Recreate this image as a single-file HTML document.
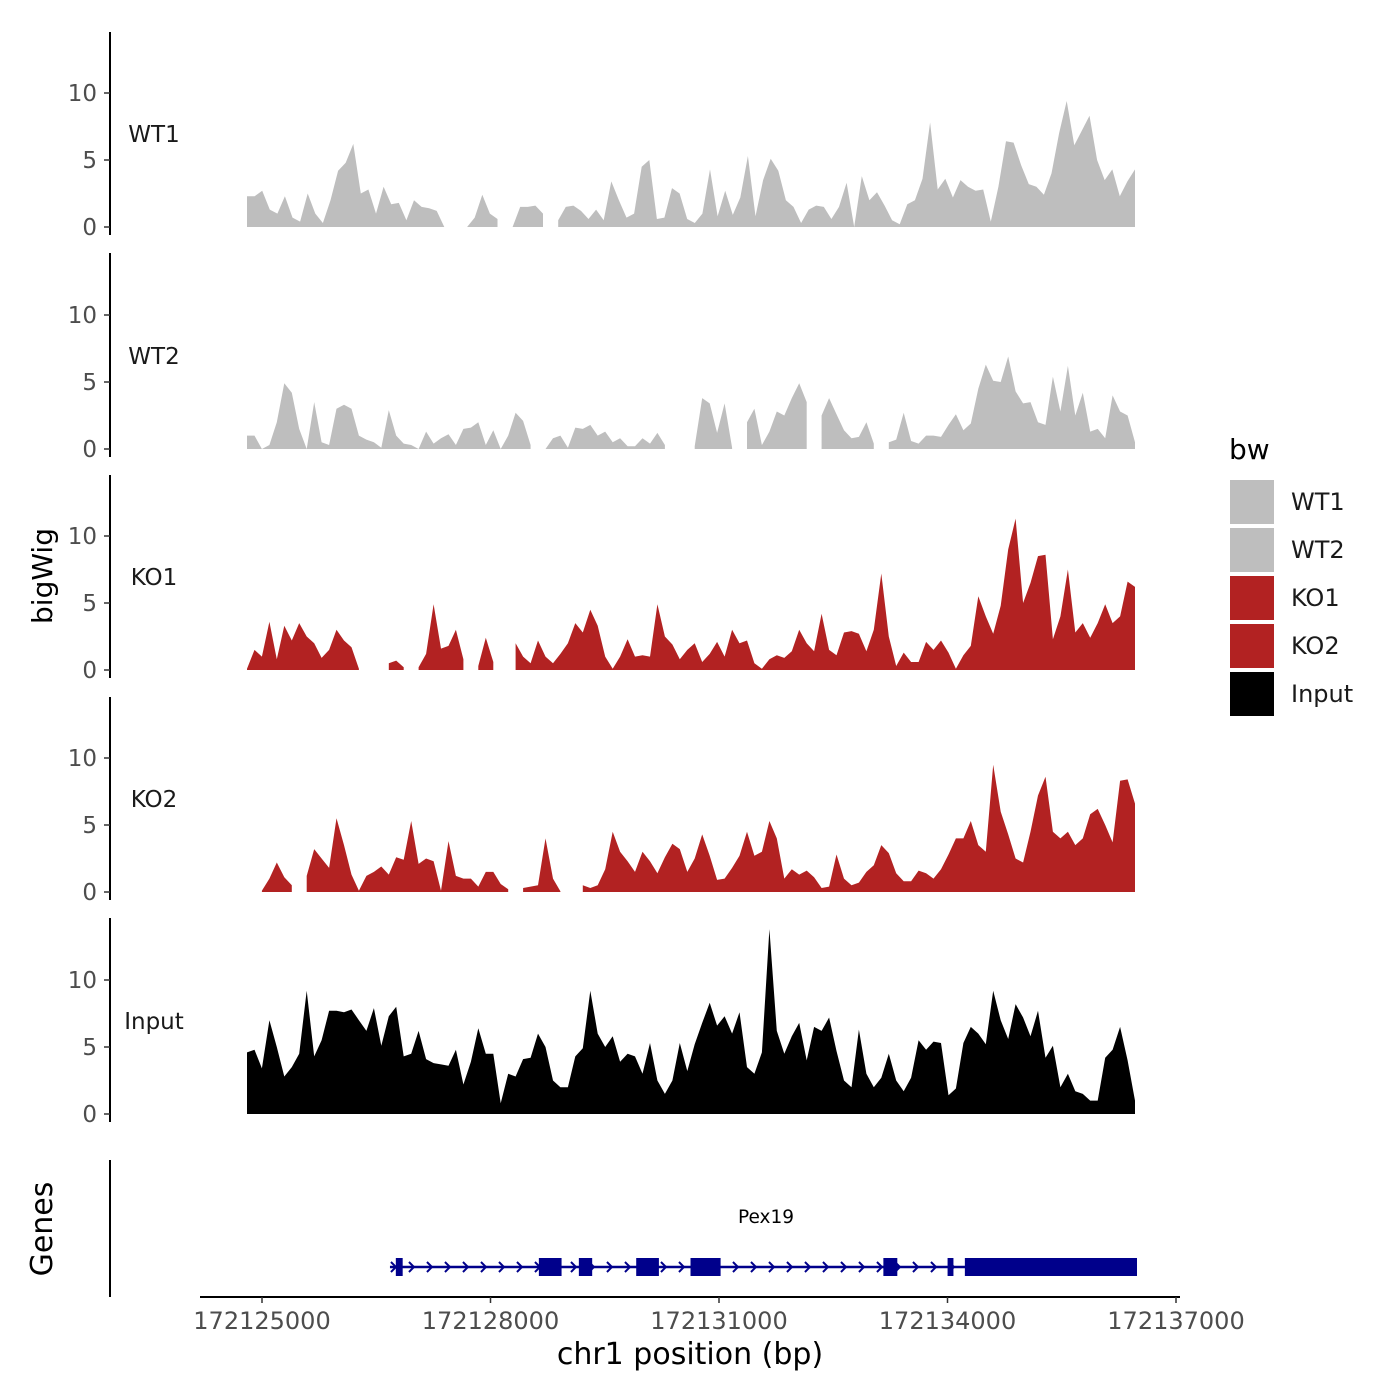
<!DOCTYPE html>
<html><head><meta charset="utf-8"><style>
body{margin:0;background:#fff}
svg{display:block;font-family:"DejaVu Sans","Liberation Sans",sans-serif}
</style></head><body>
<svg id="chart" width="1400" height="1400" viewBox="0 0 1400 1400" xmlns="http://www.w3.org/2000/svg"></svg>
<script>
const trackNames=["WT1","WT2","KO1","KO2","Input"];
const trackColors=["#bebebe","#bebebe","#b22222","#b22222","#000000"];
const regionStart=172124803, regionEnd=172136462;
const xTicks=[172125000,172128000,172131000,172134000,172137000];
const yTicks=[0,5,10];
const wt1=[2.3,2.3,2.7,1.3,1.0,2.3,0.7,0.4,2.5,1.0,0.3,2.0,4.2,4.8,6.2,2.5,2.8,1.0,3.0,1.7,1.8,0.5,2.0,1.5,1.4,1.2,0,null,null,0,0.7,2.4,1.0,0.6,null,0,1.5,1.5,1.6,1.0,null,0.5,1.5,1.6,1.2,0.6,1.3,0.5,3.4,2.0,0.7,1.0,4.5,5.0,0.6,0.7,2.9,2.5,
0.6,0.3,1.0,4.3,0.8,2.7,0.9,2.2,5.3,0.8,3.5,5.1,4.2,2.0,1.5,0.3,1.3,1.6,1.5,0.6,1.5,3.3,0,3.8,2.0,2.6,1.6,0.5,0.2,1.7,2.0,3.6,7.8,2.8,3.6,2.2,3.5,3.0,2.7,2.8,0.4,3.0,6.4,6.3,4.6,3.2,3.0,2.4,4.0,7.0,9.4,6.1,7.2,8.3,5.0,3.5,4.3,2.3,3.4,4.3];
const wt2=[1.0,1.0,0,0.3,2.0,4.9,4.2,1.5,0,3.5,0.5,0.3,3.0,3.3,3.0,1.0,0.7,0.5,0.1,2.9,1.0,0.4,0.3,0,1.3,0.4,0.8,1.1,0.3,1.5,1.6,2.0,0.3,1.4,0,1.0,2.7,2.1,0.3,null,0,0.8,1.0,0.1,1.6,1.5,1.8,1.0,1.3,0.5,0.8,0.2,0.2,0.8,0.4,1.2,0.3,null,null,null,0.2,3.8,3.4,1.2,3.4,0.1,null,2.0,3.0,0.3,1.3,2.8,2.5,3.8,4.9,3.5,null,2.5,3.8,2.6,1.4,0.8,0.9,2.0,0.4,null,0.5,0.7,2.7,0.6,0.4,1.0,1.0,0.9,1.8,2.6,1.4,1.9,4.5,6.3,5.1,5.0,6.9,4.3,3.4,3.5,2.0,1.8,5.4,2.8,6.2,2.5,4.2,1.3,1.5,0.8,4.0,2.8,2.5,0.5];
const ko1=[0.1,1.5,1.0,3.6,0.8,3.3,2.2,3.5,2.5,2.0,0.9,1.5,3.0,2.2,1.7,0.1,null,null,null,0.5,0.7,0.2,null,0.2,1.2,4.9,1.6,1.8,3.0,0.8,null,0.3,2.4,0.6,null,null,2.0,1.0,0.5,2.2,1.0,0.5,1.2,2.0,3.5,2.8,4.5,3.3,1.0,0.1,1.0,2.3,1.0,1.1,1.0,4.9,2.5,1.9,0.8,1.5,2.0,0.6,1.2,2.1,1.0,3.0,2.0,2.2,0.5,0.1,0.8,1.1,0.9,1.4,3.0,2.0,1.4,4.2,1.5,1.1,2.8,2.9,2.7,1.4,3.0,7.2,2.5,0.3,1.3,0.6,0.6,2.1,1.5,2.2,1.3,0.1,1.1,1.8,5.5,4.0,2.7,4.8,9.0,11.3,5.0,6.5,8.5,8.6,2.3,4.0,7.5,2.8,3.5,2.4,3.5,4.9,3.5,4.0,6.6,6.2];
const ko2=[null,null,0.1,1.0,2.2,1.1,0.5,null,1.2,3.2,2.5,1.8,5.5,3.5,1.3,0.1,1.2,1.5,1.9,1.3,2.6,2.4,5.3,2.1,2.5,2.3,0.1,3.8,1.2,1.0,1.0,0.4,1.5,1.5,0.6,0.2,null,0.3,0.4,0.5,4.0,1.0,0.05,null,null,0.5,0.3,0.5,1.7,4.5,3.0,2.3,1.5,3.0,2.3,1.4,2.6,3.6,3.2,1.5,2.5,4.3,2.7,0.9,1.0,1.8,2.7,4.5,2.7,3.0,5.3,4.0,1.0,1.7,1.3,1.6,1.1,0.3,0.4,2.8,1.0,0.5,0.7,1.5,2.0,3.5,2.9,1.4,0.8,0.8,1.6,1.4,1.0,1.7,2.8,4.0,4.0,5.3,3.5,3.0,9.5,6.0,4.3,2.5,2.2,4.5,7.2,8.6,4.5,4.0,4.5,3.5,4.0,5.8,6.2,5.0,3.7,8.3,8.4,6.6];
const input=[4.6,4.8,3.4,7.0,5.0,2.8,3.5,4.5,9.2,4.3,5.5,7.7,7.7,7.6,7.8,7.0,6.2,7.9,5.1,7.3,8.0,4.3,4.5,6.2,4.1,3.8,3.7,3.6,4.8,2.2,3.9,6.4,4.5,4.5,0.8,3.0,2.8,4.1,4.2,6.0,5.0,2.5,2.0,2.0,4.3,4.9,9.2,6.0,5.0,5.8,3.9,4.5,4.3,3.0,5.3,2.5,1.5,2.5,5.3,3.2,5.2,6.8,8.3,6.6,7.3,6.0,7.6,3.5,3.0,4.6,13.8,6.2,4.5,5.8,6.8,4.0,6.5,6.2,7.2,4.7,2.5,2.0,6.3,3.0,2.0,2.7,4.5,2.5,1.7,2.7,5.5,4.8,5.4,5.3,1.4,1.9,5.3,6.5,6.0,5.2,9.2,7.0,5.6,8.2,7.2,5.8,7.7,4.2,5.1,2.0,3.0,1.7,1.5,1.0,1.0,4.2,4.8,6.5,4.0,1.0];
const seriesValues=[wt1,wt2,ko1,ko2,input];
const geneName="Pex19";
const geneStart=172126680, geneEnd=172136488;
const exonStarts=[172126757,172128635,172129160,172129913,172130626,172133158,172134001,172134228];
const exonEnds=[172126847,172128933,172129335,172130211,172131021,172133341,172134078,172136488];
const legendLabels=["WT1","WT2","KO1","KO2","Input"];

const NS="http://www.w3.org/2000/svg";
const svg=document.getElementById('chart');
function mk(tag,attrs,parent){const e=document.createElementNS(NS,tag);for(const k in attrs)e.setAttribute(k,attrs[k]);(parent||svg).appendChild(e);return e;}
const xScale=bp=>262+(bp-172125000)*914/12000;
const zeroYs=[227,449,670,892,1114];
const axTop=[32,253,475,697,918], axBot=[235,457,678,900,1122];
const perUnit=13.4;

for(let t=0;t<5;t++){
  const g=mk('g',{});
  
  
  const y0=zeroYs[t];
  const yScale=v=>y0-v*perUnit;
  const vals=seriesValues[t];
  const n=vals.length;
  const xAt=i=>xScale(regionStart+i*(regionEnd-regionStart)/(n-1));
  let seg=[];
  const flush=()=>{
    if(seg.length>1){
      let d='M'+xAt(seg[0]).toFixed(1)+','+y0;
      seg.forEach(i=>{d+='L'+xAt(i).toFixed(1)+','+yScale(vals[i]).toFixed(1);});
      d+='L'+xAt(seg[seg.length-1]).toFixed(1)+','+y0+'Z';
      const p=mk('path',{d:d,fill:trackColors[t]},g);
      
      
    }
    seg=[];
  };
  for(let i=0;i<n;i++){if(vals[i]===null)flush();else seg.push(i);}
  flush();
  const ax=mk('line',{x1:110,x2:110,y1:axTop[t],y2:axBot[t],stroke:'#000','stroke-width':2},g);
  
  
  yTicks.forEach(v=>{
    const y=yScale(v);
    mk('line',{x1:104,x2:110,y1:y,y2:y,stroke:'#333','stroke-width':1.5},g);
    const tx=mk('text',{x:97,y:y+8,'text-anchor':'end','font-size':23,fill:'#4d4d4d'},g);
    tx.textContent=v;
    
    
  });
  const lb=mk('text',{x:154,y:y0-85,'text-anchor':'middle','font-size':23,fill:'#1a1a1a'},g);
  lb.textContent=trackNames[t];
  
  
}

const yt=mk('text',{x:0,y:0,transform:'translate(52,576) rotate(-90)','text-anchor':'middle','font-size':28});
yt.textContent='bigWig';


const gt=mk('text',{x:0,y:0,transform:'translate(52,1229) rotate(-90)','text-anchor':'middle','font-size':30});
gt.textContent='Genes';



const gp=mk('g',{});


mk('line',{x1:110,x2:110,y1:1160,y2:1297,stroke:'#000','stroke-width':2},gp);
const gy=1267;
mk('line',{x1:xScale(geneStart),x2:xScale(geneEnd),y1:gy,y2:gy,stroke:'#00008b','stroke-width':2.5},gp);
for(let x=xScale(geneStart)+4;x<xScale(geneEnd);x+=18){
  mk('path',{d:`M${x-3},${gy-5}L${x+2},${gy}L${x-3},${gy+5}`,fill:'none',stroke:'#00008b','stroke-width':2},gp);
}
for(let i=0;i<exonStarts.length;i++){
  const x1=xScale(exonStarts[i]),x2=xScale(exonEnds[i]);
  const r=mk('rect',{x:x1,y:gy-9,width:x2-x1,height:18,fill:'#00008b'},gp);
  
  
}
const gl=mk('text',{x:766,y:1223,'text-anchor':'middle','font-size':18.5},gp);
gl.textContent=geneName;



const xa=mk('g',{});


mk('line',{x1:200,x2:1180,y1:1297,y2:1297,stroke:'#000','stroke-width':2},xa);
xTicks.forEach(v=>{
  const x=xScale(v);
  mk('line',{x1:x,x2:x,y1:1297,y2:1303,stroke:'#333','stroke-width':1.5},xa);
  const t=mk('text',{x:x,y:1329,'text-anchor':'middle','font-size':24,fill:'#4d4d4d'},xa);
  t.textContent=v;
  
  
});
const xt=mk('text',{x:690,y:1364,'text-anchor':'middle','font-size':30});
xt.textContent='chr1 position (bp)';



const lg=mk('g',{});


const lt=mk('text',{x:1229,y:459,'font-size':28},lg);
lt.textContent='bw';


legendLabels.forEach((l,i)=>{
  const y=480+i*48;
  const k=mk('rect',{x:1230,y:y,width:44,height:44,fill:trackColors[i]},lg);
  
  
  const t=mk('text',{x:1291,y:y+30,'font-size':24,fill:'#1a1a1a'},lg);
  t.textContent=l;
  
  
});
</script>
</body></html>
